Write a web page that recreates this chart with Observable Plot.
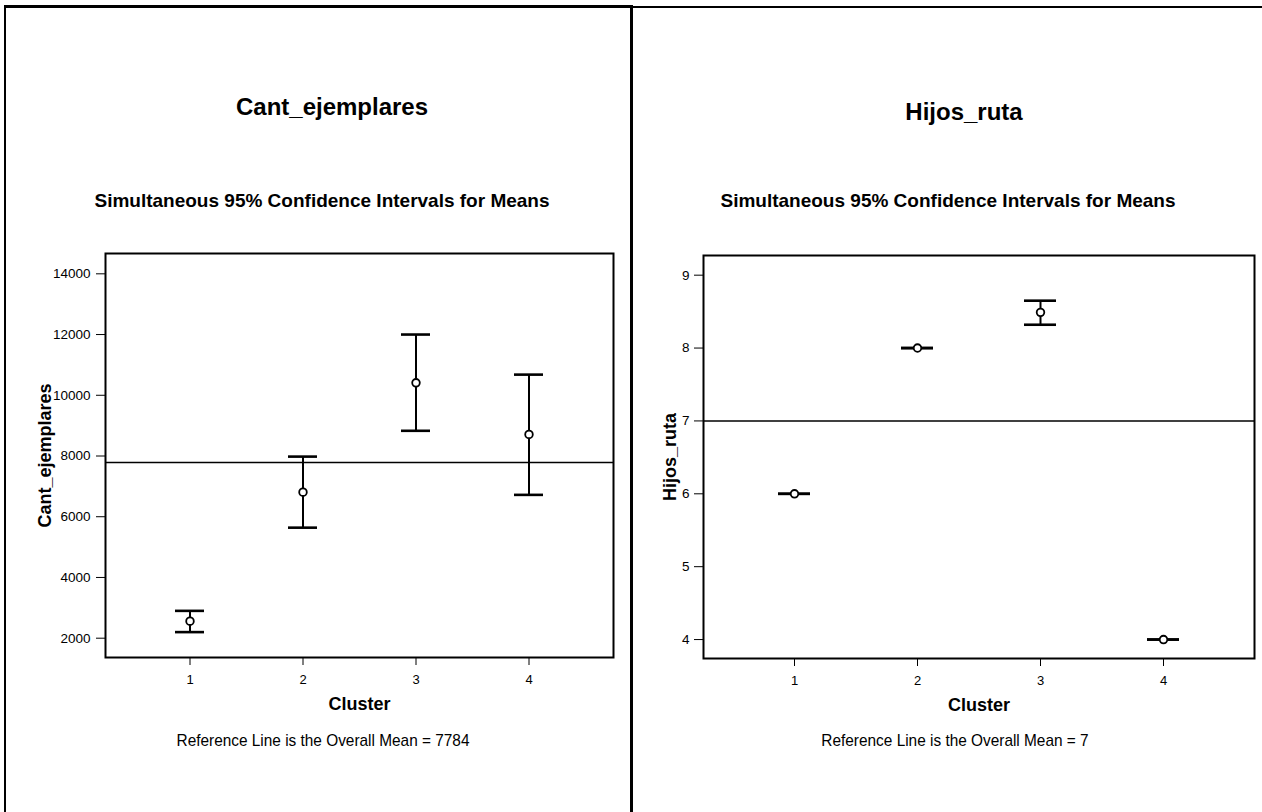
<!DOCTYPE html>
<html>
<head>
<meta charset="utf-8">
<script src="https://cdn.jsdelivr.net/npm/d3@7"></script>
<script src="https://cdn.jsdelivr.net/npm/@observablehq/plot@0.6"></script>
<style>
  html, body { margin: 0; padding: 0; background: #fff; }
  body { font-family: "Liberation Sans", Arial, sans-serif; color: #000; }
  #page { position: relative; width: 1262px; height: 812px; overflow: hidden; background: #fff; }
  .panel { position: absolute; box-sizing: border-box; }
  .txt { position: absolute; white-space: nowrap; color: #000; line-height: 1; }
  .title { font-size: 24px; font-weight: bold; transform: translateX(-50%); }
  .subtitle { font-size: 19px; font-weight: bold; transform: translateX(-50%); }
  .foot { font-size: 17px; transform: translateX(-50%) scaleX(0.905); }
  .chart { position: absolute; }
</style>
</head>
<body>
<div id="page">
  <div class="panel" style="left:4px;top:5px;width:629px;height:840px;border-left:2px solid #000;border-top:3px solid #000;border-right:3px solid #000;"></div>
  <div class="panel" style="left:632px;top:6px;width:640px;height:840px;border-top:2px solid #000;"></div>

  <div class="txt title" style="left:332px;top:95px;">Cant_ejemplares</div>
  <div class="txt subtitle" style="left:322px;top:191px;">Simultaneous 95% Confidence Intervals for Means</div>
  <div class="txt foot" style="left:323px;top:732px;">Reference Line is the Overall Mean = 7784</div>

  <div class="txt title" style="left:964px;top:100px;">Hijos_ruta</div>
  <div class="txt subtitle" style="left:948px;top:191px;">Simultaneous 95% Confidence Intervals for Means</div>
  <div class="txt foot" style="left:955px;top:732px;">Reference Line is the Overall Mean = 7</div>

  <div class="chart" id="left" style="left:0px;top:230px;"></div>
  <div class="chart" id="right" style="left:632px;top:230px;"></div>
</div>
<script>
// ---- Data ----
const clusters = [1, 2, 3, 4];

const cantMean = [2560, 6810, 10410, 8710];
const cantLow  = [2200, 5640, 8830, 6720];
const cantHigh = [2900, 7980, 12000, 10680];
const cantOverall = 7784;
const cantTicks = [2000, 4000, 6000, 8000, 10000, 12000, 14000];

const hijosMean = [6, 8, 8.49, 4];
const hijosLow  = [6, 8, 8.32, 4];
const hijosHigh = [6, 8, 8.65, 4];
const hijosOverall = 7;
const hijosTicks = [4, 5, 6, 7, 8, 9];

const xLabel = ["Cluster"];
const cantLabel = ["Cant_ejemplares"];
const hijosLabel = ["Hijos_ruta"];

function rowsOf(mean, low, high) {
  return clusters.map((c, i) => ({cluster: c, mean: mean[i], low: low[i], high: high[i]}));
}

function chart(cfg) {
  const rows = rowsOf(cfg.mean, cfg.low, cfg.high);
  return Plot.plot({
    width: cfg.width,
    height: 500,
    marginLeft: cfg.ml,
    marginRight: cfg.mr,
    marginTop: cfg.mt,
    marginBottom: cfg.mb,
    style: {fontFamily: "'Liberation Sans', Arial, sans-serif", fontSize: "13px", color: "#000", background: "transparent", overflow: "visible"},
    x: {type: "band", domain: clusters, paddingInner: 0.74, paddingOuter: 0.6, label: null},
    y: {domain: cfg.domain, label: null},
    marks: [
      Plot.ruleY([cfg.overall], {stroke: "#000", strokeWidth: 1.5}),
      Plot.frame({stroke: "#000", strokeWidth: 2}),
      Plot.axisY({ticks: cfg.ticks, tickSize: 9, tickPadding: cfg.tp, tickFormat: d => String(d), fontSize: 13.5, fill: "#000", stroke: "#000", label: null}),
      Plot.axisX({ticks: clusters, tickSize: 8, tickPadding: 9, tickFormat: d => String(d), fontSize: 13, fill: "#000", stroke: "#000", label: null}),
      Plot.ruleX(rows, {x: "cluster", y1: "low", y2: "high", stroke: "#000", strokeWidth: 2}),
      Plot.tickY(rows, {x: "cluster", y: "low", stroke: "#000", strokeWidth: 2.6}),
      Plot.tickY(rows, {x: "cluster", y: "high", stroke: "#000", strokeWidth: 2.6}),
      Plot.dot(rows, {x: "cluster", y: "mean", r: 3.8, fill: "#fff", stroke: "#000", strokeWidth: 1.8}),
      Plot.text(xLabel, {text: d => d, frameAnchor: "bottom", lineAnchor: "top", dy: 40, fontWeight: "bold", fontSize: 18, fill: "#000"}),
      Plot.text(cfg.ylabel, {text: d => d, frameAnchor: "left", textAnchor: "middle", lineAnchor: "middle", rotate: -90, dx: cfg.ydx, fontWeight: "bold", fontSize: 18, fill: "#000"})
    ]
  });
}

document.getElementById("left").appendChild(chart({
  width: 632, ml: 105, mr: 19, mt: 23, mb: 73,
  mean: cantMean, low: cantLow, high: cantHigh, overall: cantOverall,
  domain: [1364, 14669], ticks: cantTicks, ylabel: cantLabel, ydx: -60, tp: 6
}));

document.getElementById("right").appendChild(chart({
  width: 630, ml: 71, mr: 8, mt: 25, mb: 72,
  mean: hijosMean, low: hijosLow, high: hijosHigh, overall: hijosOverall,
  domain: [3.74, 9.27], ticks: hijosTicks, ylabel: hijosLabel, ydx: -33, tp: 5
}));
</script>
</body>
</html>
